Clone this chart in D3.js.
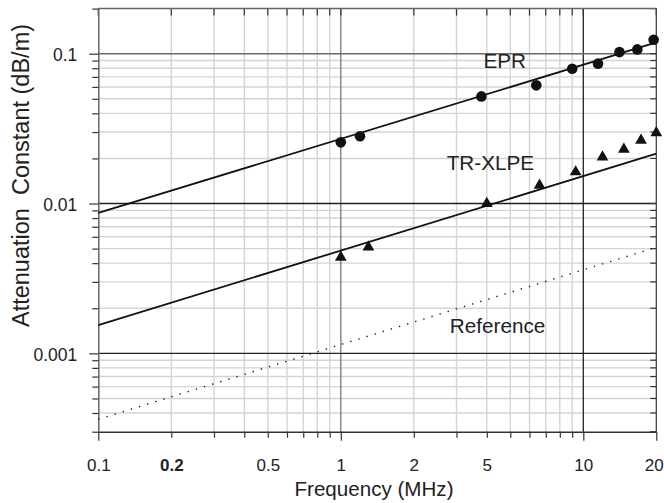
<!DOCTYPE html>
<html>
<head>
<meta charset="utf-8">
<script src="https://cdn.jsdelivr.net/npm/d3@7/dist/d3.min.js"></script>
<style>
  html, body { margin: 0; padding: 0; background: #fff; }
  svg { display: block; font-family: "Liberation Sans", Arial, Helvetica, sans-serif; }
</style>
</head>
<body>
<svg id="chart" width="664" height="503"></svg>
<script>
// ---------------- data ----------------
const eprFreq = [1.0, 1.2, 3.8, 6.4, 9.0, 11.5, 14.1, 16.7, 19.5];
const eprVals = [0.0256, 0.0281, 0.0519, 0.0615, 0.0794, 0.0858, 0.1025, 0.1068, 0.124];

const xlpeFreq = [1.0, 1.3, 4.0, 6.6, 9.3, 12.0, 14.7, 17.3, 20.0];
const xlpeVals = [0.00438, 0.00512, 0.0100, 0.01324, 0.01625, 0.0204, 0.0230, 0.0264, 0.0296];

const fitFreq = [0.1, 20];
const eprFit = [0.00865, 0.119];
const xlpeFit = [0.001545, 0.0215];
const refFit = [0.000363, 0.0051];

const xTickValues = [0.1, 0.2, 0.5, 1, 2, 4, 10, 20];
const xTickLabels = ["0.1", "0.2", "0.5", "1", "2", "5", "10", "20"];
const yTickValues = [0.1, 0.01, 0.001];
const yTickLabels = ["0.1", "0.01", "0.001"];

const curveLabels = ["EPR", "TR-XLPE", "Reference"];
const curveLabelFreq = [4.74, 4.14, 4.43];
const curveLabelVal = [0.0802, 0.01685, 0.00136];
const xTitle = "Frequency (MHz)";
const yTitle = "Attenuation\u00A0\u00A0Constant (dB/m)";

// ---------------- layout ----------------
const L = 98.3, R = 656.3, T = 8.6, B = 431.7;
const svg = d3.select("#chart");
const x = d3.scaleLog().domain([0.1, 20]).range([L, R]);
const y = d3.scaleLog().domain([0.0003, 0.2]).range([B, T]);

// minor positions (grid)
const xMinor = [];
[0.1, 1].forEach(d => { for (let k = 2; k <= 9; k++) xMinor.push(+(k * d).toFixed(4)); });
const xAll = [0.1, ...xMinor, 1, 10, 20].sort((a, b) => a - b);
const yMinor = [];
[0.0001, 0.001, 0.01].forEach(d => { for (let k = 2; k <= 9; k++) { const v = +(k * d).toPrecision(3); if (v > 0.0003) yMinor.push(v); } });
const yAll = [0.0003, ...yMinor, 0.001, 0.01, 0.1, 0.2];

const g = svg.append("g");

// minor grid
g.selectAll("line.vminor").data(xMinor).join("line")
  .attr("x1", d => x(d)).attr("x2", d => x(d)).attr("y1", T).attr("y2", B)
  .attr("stroke", "#d4d4d4").attr("stroke-width", 1.4);
g.selectAll("line.hminor").data(yMinor).join("line")
  .attr("x1", L).attr("x2", R).attr("y1", d => y(d)).attr("y2", d => y(d))
  .attr("stroke", "#d4d4d4").attr("stroke-width", 1.4);

// major grid
const xMajorCol = { 1: "#777", 10: "#222" };
g.selectAll("line.vmajor").data([1, 10]).join("line")
  .attr("x1", d => x(d)).attr("x2", d => x(d)).attr("y1", T).attr("y2", B)
  .attr("stroke", d => xMajorCol[d]).attr("stroke-width", 1.3);
const yMajorCol = { 0.1: "#6a6a6a", 0.01: "#222", 0.001: "#222" };
g.selectAll("line.hmajor").data([0.1, 0.01, 0.001]).join("line")
  .attr("x1", L).attr("x2", R).attr("y1", d => y(d)).attr("y2", d => y(d))
  .attr("stroke", d => yMajorCol[d]).attr("stroke-width", 1.4);

// top & right inward ticks
g.selectAll("line.ttick").data(xAll).join("line")
  .attr("x1", d => x(d)).attr("x2", d => x(d)).attr("y1", T).attr("y2", T + 7)
  .attr("stroke", "#333").attr("stroke-width", 1.2);
g.selectAll("line.rtick").data(yAll).join("line")
  .attr("x1", R - 6).attr("x2", R).attr("y1", d => y(d)).attr("y2", d => y(d))
  .attr("stroke", "#333").attr("stroke-width", 1.2);

// frame
g.append("line").attr("x1", L).attr("x2", R).attr("y1", T).attr("y2", T).attr("stroke", "#666").attr("stroke-width", 1.5);
g.append("line").attr("x1", R).attr("x2", R).attr("y1", T).attr("y2", B).attr("stroke", "#444").attr("stroke-width", 1.3);

// bottom axis
const isMajorX = d => [0.1, 1, 10, 20].includes(d);
const xAxis = d3.axisBottom(x).tickValues(xAll).tickSizeInner(6).tickSizeOuter(0)
  .tickFormat(d => { const i = xTickValues.indexOf(d); return i >= 0 ? xTickLabels[i] : ""; });
const gx = svg.append("g").attr("transform", `translate(0,${B})`).call(xAxis);
gx.select(".domain").attr("stroke", "#333").attr("stroke-width", 1.5);
gx.selectAll(".tick line").attr("stroke", "#333").attr("stroke-width", 1.2)
  .attr("y2", d => isMajorX(d) ? 9 : 6);
gx.selectAll(".tick text").attr("y", 39).attr("dy", null)
  .attr("dx", d => d === 20 ? -2.5 : 0)
  .attr("font-size", 17).attr("fill", "#222")
  .attr("font-family", "'Liberation Sans', Arial, sans-serif")
  .attr("font-weight", d => d === 0.2 ? "bold" : "normal");
// labelled tick values that are not among the drawn tick marks
const extra = svg.append("g");
extra.selectAll("text").data(xTickValues.filter(v => !xAll.includes(v))).join("text")
  .attr("x", d => x(d)).attr("y", B + 39).attr("text-anchor", "middle")
  .attr("font-size", 17).attr("fill", "#222")
  .text(d => xTickLabels[xTickValues.indexOf(d)]);

// left axis
const isMajorY = d => [0.1, 0.01, 0.001].includes(d);
const yAxis = d3.axisLeft(y).tickValues(yAll).tickSizeInner(6).tickSizeOuter(0)
  .tickFormat(d => { const i = yTickValues.indexOf(d); return i >= 0 ? yTickLabels[i] : ""; });
const gy = svg.append("g").attr("transform", `translate(${L},0)`).call(yAxis);
gy.select(".domain").attr("stroke", "#666").attr("stroke-width", 1.5);
gy.selectAll(".tick line").attr("stroke", "#333").attr("stroke-width", 1.2)
  .attr("x2", d => isMajorY(d) ? -9 : -6);
gy.selectAll(".tick text").attr("x", -21).attr("dy", null).attr("y", 7)
  .attr("font-size", 17.5).attr("fill", "#222")
  .attr("font-family", "'Liberation Sans', Arial, sans-serif");

// fitted lines
const line = d3.line().x(d => x(d[0])).y(d => y(d[1]));
const fitData = vals => fitFreq.map((f, i) => [f, vals[i]]);
svg.append("path").datum(fitData(eprFit)).attr("d", line)
  .attr("fill", "none").attr("stroke", "#111").attr("stroke-width", 1.8);
svg.append("path").datum(fitData(xlpeFit)).attr("d", line)
  .attr("fill", "none").attr("stroke", "#111").attr("stroke-width", 1.8);
svg.append("path").datum(fitData(refFit)).attr("d", line)
  .attr("fill", "none").attr("stroke", "#222").attr("stroke-width", 1.4)
  .attr("stroke-dasharray", "1.4 7.1");

// markers
svg.append("g").selectAll("circle").data(eprFreq.map((f, i) => [f, eprVals[i]])).join("circle")
  .attr("cx", d => x(d[0])).attr("cy", d => y(d[1])).attr("r", 5.3).attr("fill", "#111");
const tri = d3.symbol().type(d3.symbolTriangle).size(60);
svg.append("g").selectAll("path").data(xlpeFreq.map((f, i) => [f, xlpeVals[i]])).join("path")
  .attr("transform", d => `translate(${x(d[0])},${y(d[1])})`).attr("d", tri).attr("fill", "#111");

// curve labels
svg.append("g").selectAll("text").data(curveLabels).join("text")
  .attr("x", (d, i) => x(curveLabelFreq[i])).attr("y", (d, i) => y(curveLabelVal[i]))
  .attr("text-anchor", "middle").attr("font-size", 20.7).attr("fill", "#222")
  .text(d => d);

// axis titles
svg.append("text").attr("x", 374).attr("y", 496).attr("text-anchor", "middle")
  .attr("font-size", 20.6).attr("fill", "#222").text(xTitle);
svg.append("text").attr("transform", "translate(29,175.5) rotate(-90)")
  .attr("text-anchor", "middle").attr("font-size", 23.5).attr("fill", "#222").text(yTitle);
</script>
</body>
</html>
